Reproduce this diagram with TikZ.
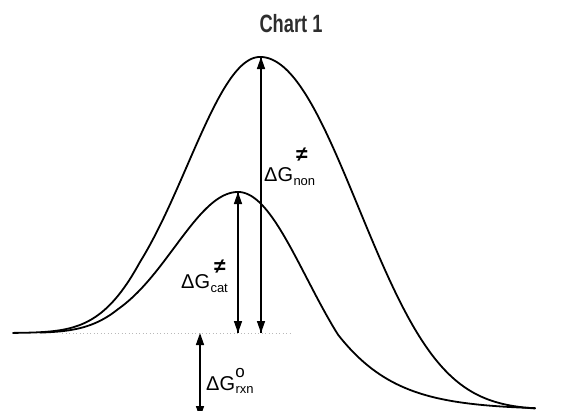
\documentclass[tikz,border=0pt]{standalone}
\usepackage{fontspec}
\setmainfont{Liberation Sans}
\usetikzlibrary{arrows.meta}
\begin{document}
\begin{tikzpicture}[x=1pt,y=-1pt,
  curve/.style={line width=1.8pt,line join=round,line cap=round},
  dg/.style={line width=1.4pt,-{Triangle[length=12pt,width=8pt]}},
  dgboth/.style={line width=1.4pt,{Triangle[length=12pt,width=8pt]}-{Triangle[length=12pt,width=8pt]}},
  lbl/.style={inner sep=0pt,font=\fontsize{20}{22}\selectfont},
  sub/.style={inner sep=0pt,font=\fontsize{13}{14}\selectfont},
  neq/.style={inner sep=0pt,font=\fontsize{21}{24}\selectfont\bfseries},
  deg/.style={inner sep=0pt,font=\fontsize{17}{18}\selectfont}]
\useasboundingbox (0,0) rectangle (564,410);
% title
\node[inner sep=0pt,text=black!82] (title) at (291,24)
  {\scalebox{0.73}[1]{\fontsize{25}{30}\selectfont\bfseries Chart 1}};
% dotted reference line
\coordinate (dl) at (62,333);
\coordinate (dr) at (292,333);
\draw[gray!55,line width=0.7pt,dash pattern=on 1pt off 2.5pt] (dl) -- (dr);
% uncatalysed (big) curve
\draw[curve] plot[domain=13:260,samples=120]
   (\x,{333-276*exp(-((\x-260)/(103-0.12*max(0,260-\x-120)))*((\x-260)/(103-0.12*max(0,260-\x-120))))})
 -- plot[domain=260:535,samples=120]
   (\x,{410-353*exp(-((\x-260)/(140-0.08*(\x-260)))*((\x-260)/(140-0.08*(\x-260))))});
% catalysed (small) curve
\draw[curve] plot[domain=40:238,samples=100]
   (\x,{333-141*exp(-((\x-238)/(90-0.1*max(0,238-\x-120)))*((\x-238)/(90-0.1*max(0,238-\x-120))))})
 -- plot[domain=238:535,samples=140]
   (\x,{410-218*exp(-((\x-238)/(97+0.2*max(0,\x-338)))*((\x-238)/(97+0.2*max(0,\x-338))))});
% arrows
\coordinate (bigtop) at (261,57);
\coordinate (bigbot) at (261,333);
\coordinate (cattop) at (238,192);
\coordinate (catbot) at (238,333);
\coordinate (rxntop) at (200,333);
\coordinate (rxnbot) at (200,418);
\draw[dg] (bigtop) -- (bigbot);
\draw[dg] (bigbot) -- (bigtop);
\draw[dg] (cattop) -- (catbot);
\draw[dg] (catbot) -- (cattop);
\draw[dgboth] (rxntop) -- (rxnbot);
% labels
\node[lbl,anchor=base west] (gnon) at (264,181) {ΔG};
\node[sub,anchor=base west] (snon) at (gnon.base east) [yshift=-4pt] {non};
\node[neq] (nnon) at (302,155) {≠};
\node[lbl,anchor=base west] (gcat) at (181,288) {ΔG};
\node[sub,anchor=base west] (scat) at (gcat.base east) [yshift=-4pt] {cat};
\node[neq] (ncat) at (220,267) {≠};
\node[lbl,anchor=base west] (grxn) at (206,390) {ΔG};
\node[sub,anchor=base west] (srxn) at (grxn.base east) [yshift=-3pt] {rxn};
\node[deg] (orxn) at (240,373) {o};
\end{tikzpicture}
\end{document}
